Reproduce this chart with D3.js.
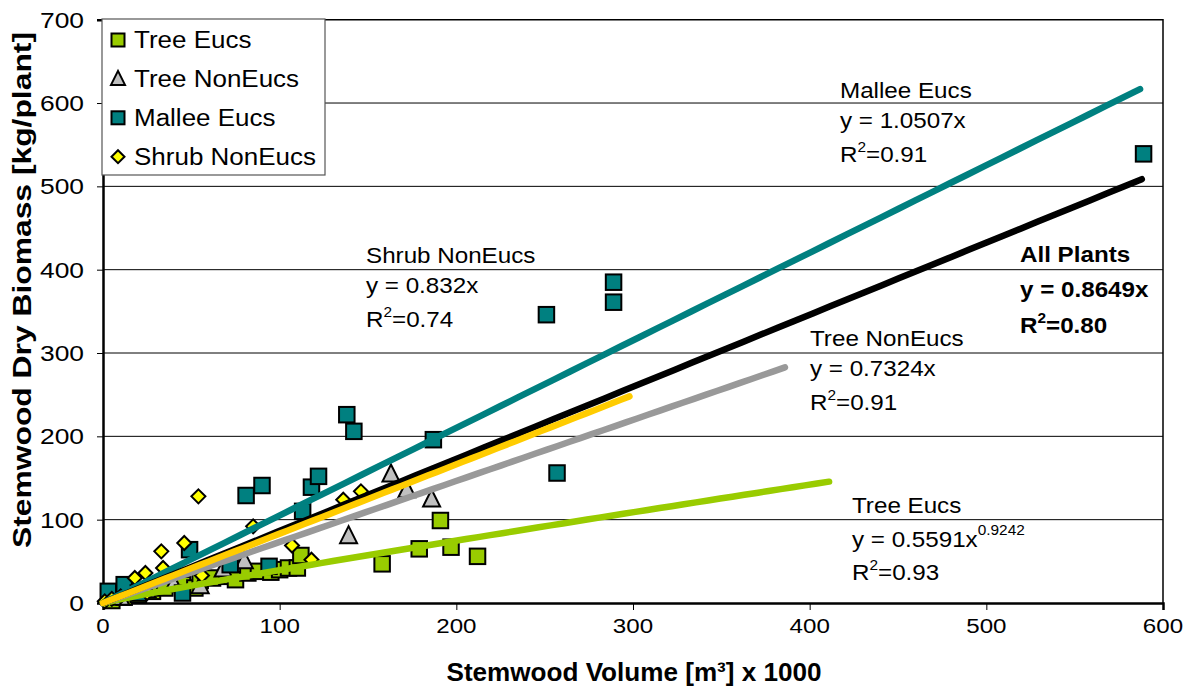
<!DOCTYPE html>
<html>
<head>
<meta charset="utf-8">
<script src="https://cdn.jsdelivr.net/npm/d3@7"></script>
<style>
  html, body { margin: 0; padding: 0; background: #fff; }
  svg { display: block; }
  text { font-family: "Liberation Sans", Arial, sans-serif; fill: #000; }
  .axis-title { font-family: "Liberation Sans Narrow", "Arial Narrow", "Liberation Sans", Arial, sans-serif; }
</style>
</head>
<body>
<svg id="chart" width="1195" height="689"></svg>
<script>
// ---- data: stemwood volume (m³ x 1000) vs stemwood dry biomass (kg/plant)
const treeEucs = [
  [5, 3], [12, 7], [20, 10], [28, 14], [35, 18], [45, 22], [52, 18], [55, 27],
  [62, 30], [70, 32], [75, 28], [82, 36], [88, 38], [95, 37], [100, 40],
  [105, 42], [110, 42], [112, 57], [158, 47], [179, 65], [191, 99], [197, 67], [212, 56]
];
const treeNonEucs = [
  [10, 6], [25, 15], [40, 22], [55, 20], [68, 40], [80, 50],
  [139, 80], [163, 154], [172, 135], [186, 124]
];
const malleeEucs = [
  [3, 14], [12, 22], [20, 12], [45, 12], [49, 64], [72, 46], [94, 44],
  [81, 129], [90, 141], [113, 110], [118, 139], [122, 152], [138, 226],
  [142, 206], [187, 196], [251, 346], [257, 156], [289, 385], [289, 361], [589, 539]
];
const shrubNonEucs = [
  [1, 2], [5, 5], [10, 8], [18, 30], [24, 36], [25, 12], [33, 62], [34, 42],
  [46, 72], [54, 128], [56, 33], [85, 92], [107, 69], [118, 52], [136, 124], [146, 134]
];

// fitted trendlines: [coefficient, exponent, x end]
const fitTreeEucs = [0.5591, 0.9242, 411];
const fitTreeNonEucs = [0.7324, 1, 386];
const fitMallee = [1.0507, 1, 587];
const fitShrub = [0.832, 1, 298];
const fitAll = [0.8649, 1, 588];

const xTicks = [0, 100, 200, 300, 400, 500, 600];
const yTicks = [0, 100, 200, 300, 400, 500, 600, 700];

const colTreeEucs = "#99CC00";
const colTreeNon = "#C0C0C0";
const colTreeNonLine = "#999999";
const colMallee = "#008080";
const colShrub = "#FFFF00";
const colShrubLine = "#FFCC00";

// ---- layout
const svg = d3.select("#chart");
const x = d3.scaleLinear().domain([0, 600]).range([103, 1163]);
const y = d3.scaleLinear().domain([0, 700]).range([603, 19.7]);
const SX = 1.1; // horizontal text stretch

function label(g, px, py, parts, opts = {}) {
  const t = g.append("text")
    .attr("transform", `translate(${px},${py}) scale(${opts.sx || SX},1)`)
    .attr("font-size", opts.size || 22)
    .attr("font-weight", opts.weight || "normal")
    .attr("text-anchor", opts.anchor || "start");
  if (typeof parts === "string") { t.text(parts); return t; }
  parts.forEach(p => {
    const s = t.append("tspan").text(p.t);
    if (p.sup) s.attr("font-size", p.size || 14).attr("dy", p.dy || -10);
    if (p.down) s.attr("dy", p.down);
  });
  return t;
}

// gridlines
svg.append("g").selectAll("line").data(yTicks.filter(v => v > 0 && v < 700)).join("line")
  .attr("x1", x(0)).attr("x2", x(600))
  .attr("y1", d => y(d)).attr("y2", d => y(d))
  .attr("stroke", "#000").attr("stroke-width", 1);

// plot frame (top and right)
svg.append("path")
  .attr("d", `M${x(0)},${y(700)}H${x(600)}V${y(0)}`)
  .attr("fill", "none").attr("stroke", "#000").attr("stroke-width", 1.5);

// axes (tick labels drawn separately with the stretched face)
const xAxis = d3.axisBottom(x).tickValues(xTicks).tickSize(7).tickFormat("");
const gx = svg.append("g").attr("transform", `translate(0,${y(0)})`).call(xAxis);
gx.select(".domain").attr("stroke-width", 2.5);
gx.selectAll(".tick line").attr("stroke-width", 1);

const yAxis = d3.axisLeft(y).tickValues(yTicks).tickSize(6).tickFormat("");
const gy = svg.append("g").attr("transform", `translate(${x(0)},0)`).call(yAxis);
gy.select(".domain").attr("stroke-width", 2.5);

const tickLabels = svg.append("g");
xTicks.forEach(v => label(tickLabels, x(v), y(0) + 30, String(v),
  {size: 21, anchor: "middle", sx: 1.15}));
yTicks.forEach(v => label(tickLabels, x(0) - 19, y(v) + 8, String(v),
  {size: 22, anchor: "end", sx: 1.2}));

// axis titles
svg.append("text").attr("class", "axis-title")
  .attr("x", 634).attr("y", 681)
  .attr("text-anchor", "middle").attr("font-size", 26).attr("font-weight", "bold")
  .attr("textLength", 375).attr("lengthAdjust", "spacingAndGlyphs")
  .text("Stemwood Volume [m³] x 1000");
svg.append("text").attr("class", "axis-title")
  .attr("transform", "translate(31,290) rotate(-90)")
  .attr("text-anchor", "middle").attr("font-size", 26).attr("font-weight", "bold")
  .attr("textLength", 516).attr("lengthAdjust", "spacingAndGlyphs")
  .text("Stemwood Dry Biomass [kg/plant]");

// markers
const sq = 15.5, tri = 17, dia = 14;
function drawSquares(data, fill, size) {
  svg.append("g").selectAll("rect").data(data).join("rect")
    .attr("x", d => x(d[0]) - size / 2).attr("y", d => y(d[1]) - size / 2)
    .attr("width", size).attr("height", size)
    .attr("fill", fill).attr("stroke", "#000").attr("stroke-width", 2);
}
drawSquares(treeEucs, colTreeEucs, sq);
svg.append("g").selectAll("path").data(treeNonEucs).join("path")
  .attr("transform", d => `translate(${x(d[0])},${y(d[1])})`)
  .attr("d", `M0,${-tri * 0.6}L${tri / 2},${tri * 0.4}L${-tri / 2},${tri * 0.4}Z`)
  .attr("fill", colTreeNon).attr("stroke", "#000").attr("stroke-width", 2);
drawSquares(malleeEucs, colMallee, sq);
svg.append("g").selectAll("path").data(shrubNonEucs).join("path")
  .attr("transform", d => `translate(${x(d[0])},${y(d[1])})`)
  .attr("d", `M0,${-dia / 2}L${dia / 2},0L0,${dia / 2}L${-dia / 2},0Z`)
  .attr("fill", colShrub).attr("stroke", "#000").attr("stroke-width", 2);

// trendlines
function trend(fit, color) {
  const [a, b, xEnd] = fit;
  const pts = d3.range(0, 61).map(i => {
    const xv = xEnd * i / 60;
    return [xv, a * Math.pow(xv, b)];
  });
  svg.append("path")
    .attr("d", d3.line().x(d => x(d[0])).y(d => y(d[1]))(pts))
    .attr("fill", "none").attr("stroke", color).attr("stroke-width", 6.5)
    .attr("stroke-linecap", "round");
}
trend(fitTreeEucs, colTreeEucs);
trend(fitTreeNonEucs, colTreeNonLine);
trend(fitMallee, colMallee);
trend(fitAll, "#000");
trend(fitShrub, colShrubLine);

// equation labels
const ann = svg.append("g");
label(ann, 840, 98, "Mallee Eucs");
label(ann, 840, 128, "y = 1.0507x");
label(ann, 840, 162, [{t: "R"}, {t: "2", sup: true}, {t: "=0.91", down: 10}]);

label(ann, 366, 263, "Shrub NonEucs");
label(ann, 366, 293, "y = 0.832x");
label(ann, 366, 327, [{t: "R"}, {t: "2", sup: true}, {t: "=0.74", down: 10}]);

label(ann, 1020, 262, "All Plants", {weight: "bold"});
label(ann, 1020, 297, "y = 0.8649x", {weight: "bold"});
label(ann, 1020, 333, [{t: "R"}, {t: "2", sup: true}, {t: "=0.80", down: 10}], {weight: "bold"});

label(ann, 810, 346, "Tree NonEucs");
label(ann, 810, 376, "y = 0.7324x");
label(ann, 810, 410, [{t: "R"}, {t: "2", sup: true}, {t: "=0.91", down: 10}]);

label(ann, 852, 513, "Tree Eucs");
label(ann, 852, 547, [{t: "y = 0.5591x"}, {t: "0.9242", sup: true, size: 14, dy: -12}]);
label(ann, 852, 580, [{t: "R"}, {t: "2", sup: true}, {t: "=0.93", down: 10}]);

// legend
const leg = svg.append("g");
leg.append("rect").attr("x", 102).attr("y", 19).attr("width", 223).attr("height", 156)
  .attr("fill", "#fff").attr("stroke", "#555").attr("stroke-width", 1.2);
const legendItems = [
  {name: "Tree Eucs", shape: "square", fill: colTreeEucs},
  {name: "Tree NonEucs", shape: "triangle", fill: colTreeNon},
  {name: "Mallee Eucs", shape: "square", fill: colMallee},
  {name: "Shrub NonEucs", shape: "diamond", fill: colShrub}
];
legendItems.forEach((it, i) => {
  const cy = 40 + i * 38.9;
  const g = leg.append("g").attr("transform", `translate(118,${cy})`);
  if (it.shape === "square") {
    g.append("rect").attr("x", -6.5).attr("y", -6.5).attr("width", 13).attr("height", 13)
      .attr("fill", it.fill).attr("stroke", "#000").attr("stroke-width", 2);
  } else if (it.shape === "triangle") {
    g.append("path").attr("d", "M0,-8L7,6L-7,6Z")
      .attr("fill", it.fill).attr("stroke", "#000").attr("stroke-width", 2);
  } else {
    g.append("path").attr("d", "M0,-6.5L6.5,0L0,6.5L-6.5,0Z")
      .attr("fill", it.fill).attr("stroke", "#000").attr("stroke-width", 2);
  }
  label(leg, 134, cy + 8, it.name, {size: 23, sx: 1.13});
});
</script>
</body>
</html>
